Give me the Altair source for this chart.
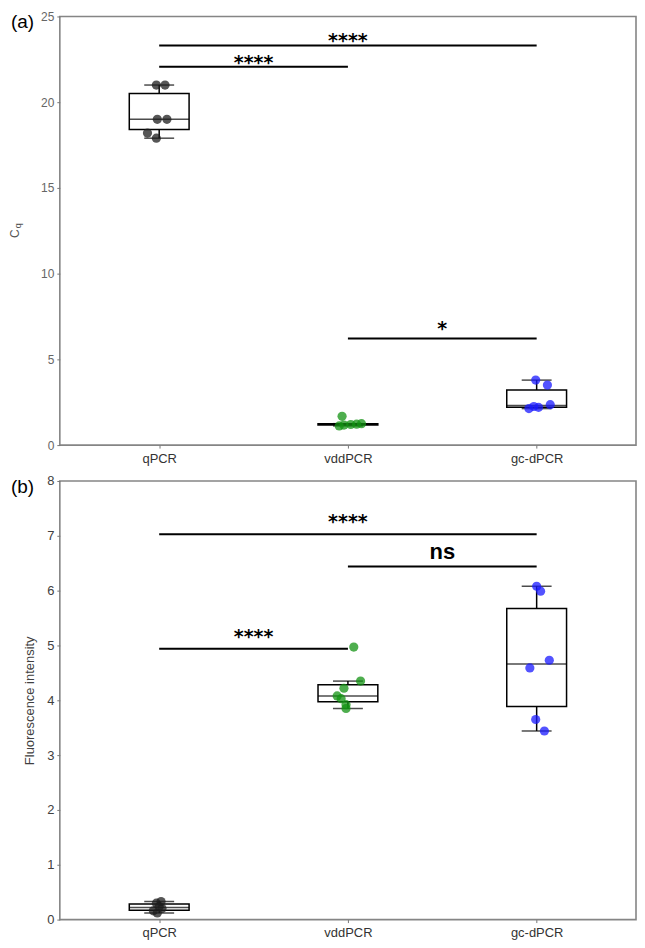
import altair as alt
import pandas as pd

# ---------------- data ----------------
categories = ["qPCR", "vddPCR", "gc-dPCR"]
positions = [1, 2, 3]
point_colors = ["#1e1e1e", "#139313", "#1a1aff"]
panel_labels = ["(a)", "(b)"]

# panel (a): Cq
a_qpcr = [17.9, 18.2, 19.0, 19.0, 21.0, 21.0]
a_vdd = [1.12, 1.17, 1.20, 1.22, 1.25, 1.68]
a_gc = [2.13, 2.20, 2.25, 2.36, 3.50, 3.79]
# horizontal jitter of each point, in category-spacing units
a_qpcr_jit = [-0.015, -0.062, -0.010, 0.041, -0.015, 0.031]
a_vdd_jit = [-0.046, -0.021, 0.015, 0.046, 0.072, -0.031]
a_gc_jit = [-0.041, 0.010, -0.015, 0.072, 0.057, -0.005]

# panel (b): fluorescence intensity
b_qpcr = [0.12, 0.16, 0.20, 0.24, 0.30, 0.33]
b_vdd = [3.85, 3.92, 4.03, 4.08, 4.22, 4.35, 4.97]
b_gc = [3.44, 3.65, 4.59, 4.73, 5.99, 6.08]
b_qpcr_jit = [-0.010, -0.031, 0.015, 0.0, -0.015, 0.010]
b_vdd_jit = [-0.010, -0.010, -0.036, -0.057, -0.021, 0.067, 0.031]
b_gc_jit = [0.041, -0.005, -0.036, 0.067, 0.021, 0.0]

# significance brackets
a_sig_from = [1, 1, 2]
a_sig_to = [3, 2, 3]
a_sig_y = [23.31, 22.06, 6.22]
a_sig_text_y = [23.79, 22.52, 7.03]
a_sig_label = ["****", "****", "*"]

b_sig_from = [1, 2, 1]
b_sig_to = [3, 3, 2]
b_sig_y = [7.03, 6.44, 4.94]
b_sig_text_y = [7.32, 6.69, 5.23]
b_sig_label = ["****", "ns", "****"]

a_ticks = [0, 5, 10, 15, 20, 25]
b_ticks = [0, 1, 2, 3, 4, 5, 6, 7, 8]


def points_frame(groups, jits):
    rows = []
    for cat, pos, vals, jit in zip(categories, positions, groups, jits):
        for v, j in zip(vals, jit):
            rows.append({"cat": cat, "pos": pos, "value": v, "jit": j})
    return pd.DataFrame(rows)


def sig_frame(f, t, y, ty, lab):
    return pd.DataFrame({"x1": f, "x2": t, "y": y, "ty": ty, "label": lab})


df_a = points_frame([a_qpcr, a_vdd, a_gc], [a_qpcr_jit, a_vdd_jit, a_gc_jit])
df_b = points_frame([b_qpcr, b_vdd, b_gc], [b_qpcr_jit, b_vdd_jit, b_gc_jit])
sig_a = sig_frame(a_sig_from, a_sig_to, a_sig_y, a_sig_text_y, a_sig_label)
sig_b = sig_frame(b_sig_from, b_sig_to, b_sig_y, b_sig_text_y, b_sig_label)

label_expr = " : ".join(
    f"datum.value == {p} ? '{c}'" for p, c in zip(positions[:-1], categories[:-1])
) + f" : '{categories[-1]}'"

FONT = "Liberation Sans"
W = 578


def panel(df, sig, ymax, yticks, height, ytitle, lab_size, lab_color, plabel):
    xs = alt.Scale(domain=[0.5, 3.5], nice=False, zero=False)
    ys = alt.Scale(domain=[0, ymax], nice=False, zero=True)
    xaxis = alt.Axis(values=positions, labelExpr=label_expr, title=None,
                     labelFont=FONT, labelFontSize=13, labelColor="#333333",
                     labelPadding=4, tickSize=3, tickColor="#777777",
                     grid=False, domain=False)
    yargs = dict(values=yticks, labelFont=FONT, labelFontSize=lab_size,
                 labelColor=lab_color, labelPadding=3, tickSize=3,
                 tickColor="#777777", grid=False, domain=False)
    if ytitle:
        yaxis = alt.Axis(title=ytitle, titleFont=FONT, titleFontSize=13,
                         titleFontWeight="normal", titleColor="#404040",
                         titlePadding=10, **yargs)
    else:
        yaxis = alt.Axis(title=None, **yargs)

    def X(f):
        return alt.X(f, scale=xs, axis=xaxis)

    def Y(f):
        return alt.Y(f, scale=ys, axis=yaxis)

    stats = alt.Chart(df).transform_joinaggregate(
        q1="q1(value)", q3="q3(value)", med="median(value)", groupby=["pos"]
    ).transform_calculate(
        lof="datum.q1 - 1.5 * (datum.q3 - datum.q1)",
        hif="datum.q3 + 1.5 * (datum.q3 - datum.q1)",
    ).transform_filter(
        "datum.value >= datum.lof && datum.value <= datum.hif"
    ).transform_aggregate(
        lo="min(value)", hi="max(value)", bq1="max(q1)", bq3="max(q3)",
        bmed="max(med)", groupby=["pos"]
    )

    box = stats.mark_bar(size=60, fillOpacity=0, stroke="black",
                         strokeWidth=1.5).encode(
        x=X("pos:Q"), y=Y("bq1:Q"), y2="bq3:Q")
    med = stats.mark_tick(orient="horizontal", size=60, thickness=1.5,
                          color="black").encode(x=X("pos:Q"), y=Y("bmed:Q"))
    wlo = stats.mark_rule(color="black", strokeWidth=1.5).encode(
        x=X("pos:Q"), y=Y("lo:Q"), y2="bq1:Q")
    whi = stats.mark_rule(color="black", strokeWidth=1.5).encode(
        x=X("pos:Q"), y=Y("bq3:Q"), y2="hi:Q")
    clo = stats.mark_tick(orient="horizontal", size=30, thickness=1.5,
                          color="black").encode(x=X("pos:Q"), y=Y("lo:Q"))
    chi = stats.mark_tick(orient="horizontal", size=30, thickness=1.5,
                          color="black").encode(x=X("pos:Q"), y=Y("hi:Q"))

    pts = alt.Chart(df).transform_calculate(
        xj="datum.pos + datum.jit"
    ).mark_circle(size=85, opacity=0.75).encode(
        x=X("xj:Q"), y=Y("value:Q"),
        color=alt.Color("cat:N", scale=alt.Scale(domain=categories,
                                                 range=point_colors),
                        legend=None))

    srule = alt.Chart(sig).mark_rule(color="black", strokeWidth=2).encode(
        x=X("x1:Q"), x2="x2:Q", y=Y("y:Q"))
    sbase = alt.Chart(sig).transform_calculate(xm="(datum.x1 + datum.x2) / 2")
    stext_ast = sbase.transform_filter("datum.label != 'ns'").mark_text(
        font="DejaVu Sans", fontSize=19, fontWeight="bold", color="black",
        baseline="alphabetic", dy=10).encode(
        x=X("xm:Q"), y=Y("ty:Q"), text="label:N")
    stext_ns = sbase.transform_filter("datum.label == 'ns'").mark_text(
        font=FONT, fontSize=22, fontWeight="bold", color="black",
        baseline="alphabetic", dy=6).encode(
        x=X("xm:Q"), y=Y("ty:Q"), text="label:N")

    plab = alt.Chart(pd.DataFrame({"label": [plabel]})).mark_text(
        font=FONT, fontSize=19, align="left", baseline="middle",
        color="black").encode(
        x=alt.value(-49), y=alt.value(6), text="label:N")

    layers = [box, med, wlo, whi, clo, chi, pts, srule, stext_ast, stext_ns, plab]

    if not ytitle:
        cq_c = alt.Chart(pd.DataFrame({"t": ["C"]})).mark_text(
            font=FONT, fontSize=12, angle=270, color="#555555",
            align="center", baseline="middle").encode(
            x=alt.value(-45), y=alt.value(height / 2 + 3), text="t:N")
        cq_q = alt.Chart(pd.DataFrame({"t": ["q"]})).mark_text(
            font=FONT, fontSize=9, angle=270, color="#555555",
            align="center", baseline="middle").encode(
            x=alt.value(-42), y=alt.value(height / 2 - 5), text="t:N")
        layers += [cq_c, cq_q]

    return alt.layer(*layers).properties(width=W, height=height)


pa = panel(df_a, sig_a, 25, a_ticks, 430, None, 12, "#666666", panel_labels[0])
pb = panel(df_b, sig_b, 8, b_ticks, 440, "Fluorescence intensity", 13,
           "#404040", panel_labels[1])

chart = alt.vconcat(pa, pb, spacing=8).properties(padding=0).configure_view(
    stroke="#858585", strokeWidth=1.6)

chart.save("out.html", embed_options={"renderer": "svg", "actions": False})
